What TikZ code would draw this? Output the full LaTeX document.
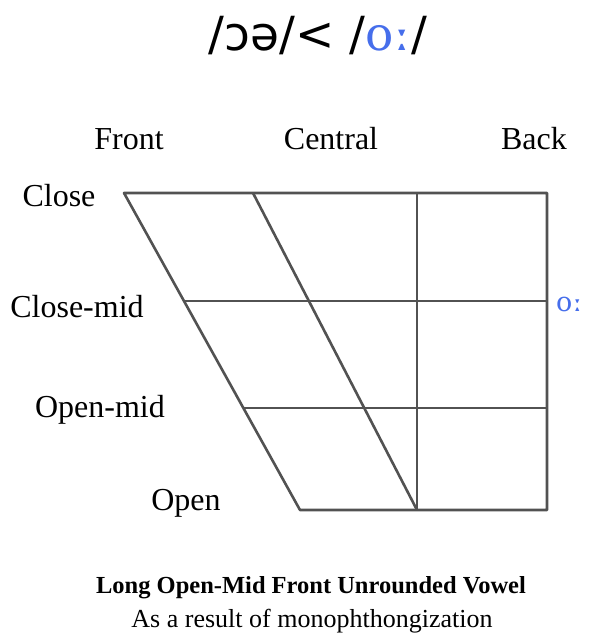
\documentclass[tikz,border=0pt]{standalone}
\usepackage{fontspec}
\setmainfont{Liberation Serif}
\newfontfamily\ipasans{DejaVu Sans}
\newfontfamily\ipaserif{DejaVu Serif}
\definecolor{ipablue}{RGB}{70,110,235}
\usetikzlibrary{backgrounds}

\begin{document}
\begin{tikzpicture}[x=1pt,y=-1pt,
    grid/.style={draw=black!68,line width=2.6pt,line join=round},
    lbl/.style={font=\fontsize{32}{32}\selectfont,anchor=base,inner sep=0pt}]
  \useasboundingbox (0,0) rectangle (589,636);
  \node (title) at (318,36) {\fontsize{47}{47}\selectfont\ipasans /ɔə/< /\textcolor{ipablue}{\ipaserif o{\bfseries ː}}/};
  %% column heads
  \node[lbl] (front) at (129,150) {Front};
  \node[lbl] (central) at (331,150) {Central};
  \node[lbl] (back) at (534,150) {Back};
  %% row heads
  \node[lbl] (close) at (59,207) {Close};
  \node[lbl] (closemid) at (77,317) {Close-mid};
  \node[lbl] (openmid) at (100,417) {Open-mid};
  \node[lbl] (open) at (186,510) {Open};
  %% chart corners
  \coordinate (fc) at (124,193);
  \coordinate (bc) at (547,193);
  \coordinate (fo) at (300,510);
  \coordinate (bo) at (547,510);
  \coordinate (cc) at (253,193);
  \coordinate (co) at (417,510);
  \coordinate (ct) at (417,193);
  \coordinate (fcm) at (183,301);
  \coordinate (bcm) at (547,301);
  \coordinate (fom) at (244,408);
  \coordinate (bom) at (547,408);
  \draw[grid] (fc) -- (bc) -- (bo) -- (fo) -- cycle;
  \draw[grid] (cc) -- (co);
  \draw[grid] (ct) -- (co);
  \draw[grid] (fcm) -- (bcm);
  \draw[grid] (fom) -- (bom);
  \node[anchor=base west,inner sep=0pt,text=ipablue,font=\fontsize{27}{27}\selectfont\ipaserif] (vowel) at (556,311) {o{\bfseries ː}};
  %% caption
  \node[anchor=base,inner sep=0pt] (capA) at (311,593) {\fontsize{24.5}{24.5}\selectfont\bfseries Long Open-Mid Front Unrounded Vowel};
  \node[anchor=base,inner sep=0pt] (capB) at (312,627) {\fontsize{26}{26}\selectfont As a result of monophthongization};
\end{tikzpicture}
\end{document}
